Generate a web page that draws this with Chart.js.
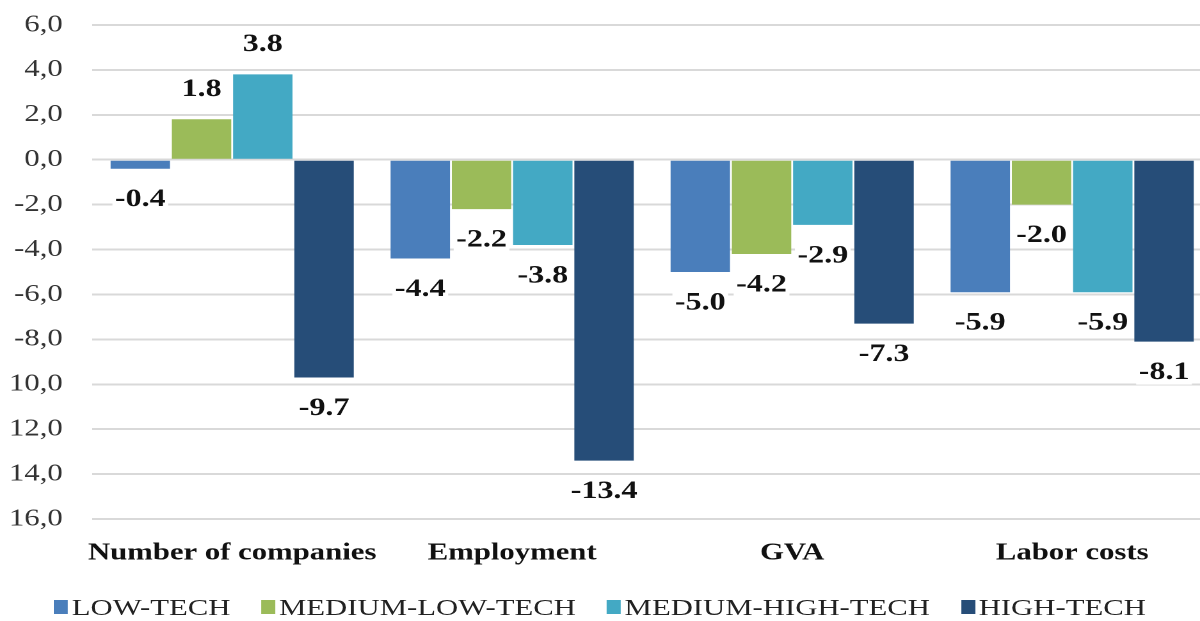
<!DOCTYPE html>
<html>
<head>
<meta charset="utf-8">
<script src="https://cdn.jsdelivr.net/npm/chart.js"></script>
<style>
html, body { margin: 0; padding: 0; background: #fff; overflow: hidden; }
#stage {
  position: absolute; left: 0; top: 0;
  width: 950px; height: 621px;
  transform: scaleX(1.28); transform-origin: 0 0;
}
#legend {
  position: absolute; left: 42px; top: 595px;
  display: flex; gap: 24px;
  font-family: "Liberation Serif", serif; font-size: 24px; color: #222;
  line-height: 24px; white-space: nowrap;
}
#legend .item { display: flex; align-items: center; }
#legend .box { width: 11px; height: 14px; margin-right: 3px; }
</style>
</head>
<body>
<div id="stage">
  <canvas id="chart" width="950" height="621"></canvas>
  <div id="legend"></div>
</div>
<script>
const categories = ['Number of companies', 'Employment', 'GVA', 'Labor costs'];
const seriesNames = ['LOW-TECH', 'MEDIUM-LOW-TECH', 'MEDIUM-HIGH-TECH', 'HIGH-TECH'];
const seriesColors = ['#4a7ebb', '#9bbb59', '#43a9c4', '#264d78'];
const lowTech = [-0.4, -4.4, -5.0, -5.9];
const mediumLowTech = [1.8, -2.2, -4.2, -2.0];
const mediumHighTech = [3.8, -3.8, -2.9, -5.9];
const highTech = [-9.7, -13.4, -7.3, -8.1];
const yTickValues = [6, 4, 2, 0, -2, -4, -6, -8, -10, -12, -14, -16];
const yTickLabels = ['6,0', '4,0', '2,0', '0,0', '-2,0', '-4,0', '-6,0', '-8,0', '10,0', '12,0', '14,0', '16,0'];

const seriesValues = [lowTech, mediumLowTech, mediumHighTech, highTech];

// value labels under/over each bar, on a white patch
const valueLabels = {
  id: 'valueLabels',
  afterDatasetsDraw(chart) {
    const ctx = chart.ctx;
    ctx.save();
    ctx.font = 'bold 25px "Liberation Serif"';
    ctx.textAlign = 'center';
    ctx.textBaseline = 'middle';
    chart.data.datasets.forEach((ds, i) => {
      chart.getDatasetMeta(i).data.forEach((bar, j) => {
        const v = ds.data[j];
        const txt = v.toFixed(1);
        const y = v < 0 ? bar.y + 31 : bar.y - 30;
        const w = ctx.measureText(txt).width;
        ctx.fillStyle = '#fff';
        ctx.fillRect(bar.x - w / 2 - 2, y - 12, w + 4, 24);
        ctx.fillStyle = '#111';
        ctx.fillText(txt, bar.x, y);
      });
    });
    ctx.restore();
  }
};

new Chart(document.getElementById('chart'), {
  type: 'bar',
  data: {
    labels: categories,
    datasets: seriesNames.map((name, i) => ({
      label: name,
      data: seriesValues[i],
      backgroundColor: seriesColors[i],
      categoryPercentage: 0.875,
      barPercentage: 0.97
    }))
  },
  options: {
    responsive: false,
    animation: false,
    devicePixelRatio: 2,
    layout: { padding: { top: 25, right: 3, bottom: 42, left: 0 } },
    plugins: { legend: { display: false }, tooltip: { enabled: false } },
    scales: {
      x: {
        afterFit(axis) { axis.height = 60; },
        grid: { display: false },
        border: { display: false },
        ticks: {
          padding: 12,
          color: '#111',
          font: { family: '"Liberation Serif"', size: 24, weight: 'bold' },
          maxRotation: 0, autoSkip: false
        }
      },
      y: {
        min: -16, max: 6,
        afterFit(axis) {
          axis.width = 72;
          axis.paddingTop = 14;
          axis.paddingBottom = 14;
        },
        grid: { color: '#d9d9d9', lineWidth: 2, drawTicks: false },
        border: { display: false },
        ticks: {
          stepSize: 2,
          padding: 23,
          color: '#333',
          font: { family: '"Liberation Serif"', size: 24 },
          callback: v => {
            const k = yTickValues.indexOf(v);
            return k >= 0 ? yTickLabels[k] : '';
          }
        }
      }
    }
  },
  plugins: [valueLabels]
});

const legend = document.getElementById('legend');
seriesNames.forEach((name, i) => {
  const item = document.createElement('div');
  item.className = 'item';
  item.innerHTML = '<span class="box" style="background:' + seriesColors[i] + '"></span><span>' + name + '</span>';
  legend.appendChild(item);
});
</script>
</body>
</html>
